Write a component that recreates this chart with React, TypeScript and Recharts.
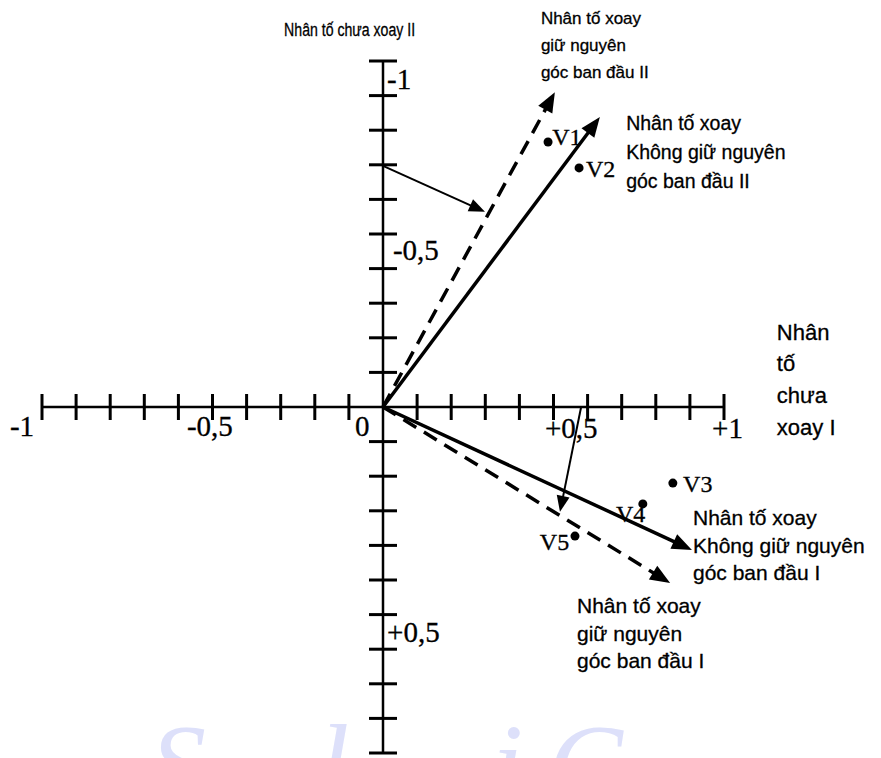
import { ReferenceDot, ReferenceLine, Scatter, ScatterChart, XAxis, YAxis } from "recharts";

// axis ticks every 0.1 (0 itself is left out)
const axisTicks = [
  -1, -0.9, -0.8, -0.7, -0.6, -0.5, -0.4, -0.3, -0.2, -0.1,
  0.1, 0.2, 0.3, 0.4, 0.5, 0.6, 0.7, 0.8, 0.9, 1,
];

// variables (y grows downward: -1 at the top, as in the figure)
const variables = [
  { name: "V1", x: 0.484, y: -0.766 },
  { name: "V2", x: 0.575, y: -0.691 },
  { name: "V3", x: 0.85, y: 0.22 },
  { name: "V4", x: 0.762, y: 0.28 },
  { name: "V5", x: 0.563, y: 0.373 },
];

// rotated factor vectors and rotation arrows
const vectors = [
  { from: [0, 0], to: [0.636, -0.838], dashed: false, width: 3.5 },
  { from: [0, 0], to: [0.504, -0.91], dashed: true, width: 3.5 },
  { from: [0, 0], to: [0.906, 0.413], dashed: false, width: 3.5 },
  { from: [0, 0], to: [0.842, 0.509], dashed: true, width: 3.5 },
  { from: [0, -0.697], to: [0.299, -0.564], dashed: false, width: 2 },
  { from: [0.581, 0], to: [0.519, 0.303], dashed: false, width: 2 },
];

// tick labels
const tickLabels = [
  { text: "-1", x: 0.012, y: -0.919 },
  { text: "-0,5", x: 0.029, y: -0.425 },
  { text: "+0,5", x: 0.012, y: 0.679 },
  { text: "-1", x: -1.094, y: 0.084 },
  { text: "-0,5", x: -0.575, y: 0.084 },
  { text: "0", x: -0.082, y: 0.084 },
  { text: "+0,5", x: 0.475, y: 0.09 },
  { text: "+1", x: 0.965, y: 0.09 },
];

const variableLabels = [
  { text: "V1", x: 0.496, y: -0.757 },
  { text: "V2", x: 0.595, y: -0.665 },
  { text: "V3", x: 0.88, y: 0.246 },
  { text: "V4", x: 0.683, y: 0.332 },
  { text: "V5", x: 0.46, y: 0.413 },
];

// factor captions, one entry per line
const captions = [
  { text: "Nhân tố chưa xoay II", x: -0.29, y: -1.072, size: 18 },
  { text: "Nhân tố xoay", x: 0.463, y: -1.107, size: 17 },
  { text: "giữ nguyên", x: 0.463, y: -1.029, size: 17 },
  { text: "góc ban đầu II", x: 0.463, y: -0.951, size: 17 },
  { text: "Nhân tố xoay", x: 0.713, y: -0.801, size: 19.5 },
  { text: "Không giữ nguyên", x: 0.713, y: -0.717, size: 19.5 },
  { text: "góc ban đầu II", x: 0.713, y: -0.633, size: 19.5 },
  { text: "Nhân", x: 1.155, y: -0.194, size: 22 },
  { text: "tố", x: 1.155, y: -0.104, size: 22 },
  { text: "chưa", x: 1.155, y: -0.012, size: 22 },
  { text: "xoay I", x: 1.155, y: 0.081, size: 22 },
  { text: "Nhân tố xoay", x: 0.909, y: 0.341, size: 21 },
  { text: "Không giữ nguyên", x: 0.909, y: 0.422, size: 21 },
  { text: "góc ban đầu I", x: 0.909, y: 0.5, size: 21 },
  { text: "Nhân tố xoay", x: 0.569, y: 0.595, size: 21 },
  { text: "giữ nguyên", x: 0.569, y: 0.676, size: 21 },
  { text: "góc ban đầu I", x: 0.569, y: 0.754, size: 21 },
];

const watermark = [
  { text: "S", left: 150 },
  { text: "l", left: 318 },
  { text: "i", left: 492 },
  { text: "C", left: 548 },
];

const SANS = "'Liberation Sans', Arial, sans-serif";
const SERIF = "'Liberation Serif', 'Times New Roman', serif";

const xTickData = axisTicks.map((t) => ({ x: t, y: 0 }));
const yTickData = axisTicks.map((t) => ({ x: 0, y: t }));

const VTick = (p: any) => (
  <line x1={p.cx} x2={p.cx} y1={p.cy - 13} y2={p.cy + 13} stroke="#000" strokeWidth={3} />
);
const HTick = (p: any) => (
  <line x1={p.cx - 14} x2={p.cx + 14} y1={p.cy} y2={p.cy} stroke="#000" strokeWidth={3} />
);
const Dot = (p: any) => <circle cx={p.cx} cy={p.cy} r={4.5} fill="#000" />;

const ArrowLine = (p: any) => {
  const { x1, y1, x2, y2, strokeWidth, strokeDasharray } = p;
  const big = strokeWidth > 2.5;
  const len = big ? 20 : 16;
  const half = big ? 8 : 6.5;
  const dx = x2 - x1;
  const dy = y2 - y1;
  const d = Math.hypot(dx, dy) || 1;
  const ux = dx / d;
  const uy = dy / d;
  const bx = x2 - ux * len;
  const by = y2 - uy * len;
  return (
    <g>
      <line x1={x1} y1={y1} x2={bx + ux * 2} y2={by + uy * 2} stroke="#000" strokeWidth={strokeWidth} strokeDasharray={strokeDasharray} />
      <polygon
        points={`${x2},${y2} ${bx - uy * half},${by + ux * half} ${bx + uy * half},${by - ux * half}`}
        fill="#000"
      />
    </g>
  );
};

const textShape = (text: string, family: string, size: number, fit?: number) => (p: any) => (
  <text
    x={p.cx}
    y={p.cy}
    fontFamily={family}
    fontSize={size}
    fill="#000"
    stroke="#000"
    strokeWidth={0.3}
    textLength={fit}
    lengthAdjust={fit ? "spacingAndGlyphs" : undefined}
  >
    {text}
  </text>
);

export default function App() {
  return (
    <div style={{ position: "relative", width: 881, height: 758, overflow: "hidden", background: "#fff" }}>
      <style>{"body{margin:0}"}</style>
      <svg width={881} height={758} style={{ position: "absolute", left: 0, top: 0 }}>
        {watermark.map((w, i) => (
          <text key={i} x={w.left} y={802} fontFamily={SERIF} fontStyle="italic" fontSize={112} fill="#dde0fa">
            {w.text}
          </text>
        ))}
      </svg>
      <div style={{ position: "absolute", left: 0, top: 0 }}>
        <ScatterChart width={881} height={758} margin={{ top: 61, right: 157, bottom: 5, left: 42 }}>
          <XAxis type="number" dataKey="x" domain={[-1, 1]} hide />
          <YAxis type="number" dataKey="y" domain={[-1, 1]} reversed hide />

          <ReferenceLine segment={[{ x: -1, y: 0 }, { x: 1, y: 0 }]} stroke="#000" strokeWidth={2.5} />
          <ReferenceLine segment={[{ x: 0, y: -1 }, { x: 0, y: 1 }]} stroke="#000" strokeWidth={2.5} />

          <Scatter data={xTickData} shape={VTick} isAnimationActive={false} />
          <Scatter data={yTickData} shape={HTick} isAnimationActive={false} />

          {vectors.map((v, i) => (
            <ReferenceLine
              key={`v${i}`}
              segment={[
                { x: v.from[0], y: v.from[1] },
                { x: v.to[0], y: v.to[1] },
              ]}
              stroke="#000"
              strokeWidth={v.width}
              strokeDasharray={v.dashed ? "15 9" : undefined}
              ifOverflow="visible"
              shape={ArrowLine}
            />
          ))}

          <Scatter data={variables} shape={Dot} isAnimationActive={false} />

          {tickLabels.map((t, i) => (
            <ReferenceDot key={`t${i}`} x={t.x} y={t.y} ifOverflow="visible" shape={textShape(t.text, SERIF, 29)} />
          ))}
          {variableLabels.map((t, i) => (
            <ReferenceDot key={`l${i}`} x={t.x} y={t.y} ifOverflow="visible" shape={textShape(t.text, SERIF, 24)} />
          ))}
          {captions.map((c, i) => (
            <ReferenceDot
              key={`c${i}`}
              x={c.x}
              y={c.y}
              ifOverflow="visible"
              shape={textShape(c.text, SANS, c.size, i === 0 ? 131 : undefined)}
            />
          ))}
        </ScatterChart>
      </div>
    </div>
  );
}
